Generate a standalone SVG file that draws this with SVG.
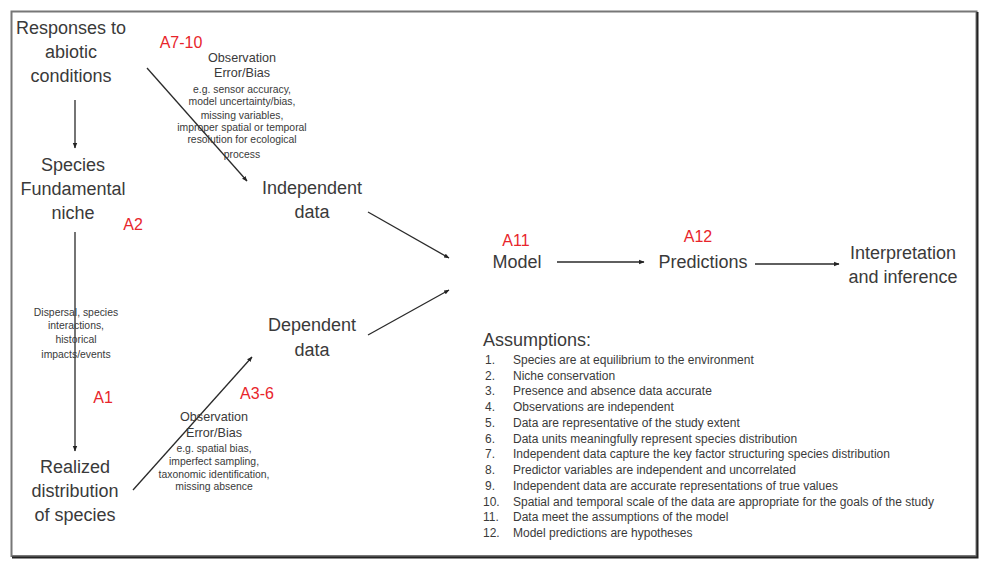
<svg xmlns="http://www.w3.org/2000/svg" width="981" height="563" viewBox="0 0 981 563">
<defs>
<marker id="ah" viewBox="0 0 10 10" refX="9" refY="5" markerWidth="4.2" markerHeight="4.2" orient="auto" markerUnits="strokeWidth">
<path d="M0,1 L10,5 L0,9 z" fill="#222"/>
</marker>
</defs>
<style>
.t{font-family:"Liberation Sans",Arial,sans-serif;fill:#3a3a3a;}
.m{font-size:18px;text-anchor:middle;}
.r{font-family:"Liberation Sans",Arial,sans-serif;fill:#e8252b;font-size:16px;text-anchor:middle;}
.s{font-size:10.4px;text-anchor:middle;}
.o{font-size:12.6px;text-anchor:middle;}
.a{font-size:12px;}
.h{font-size:18px;}
.c{stroke:#2a2a2a;stroke-width:1.3;fill:none;marker-end:url(#ah);}
</style>
<rect width="981" height="563" fill="#fff"/>
<rect x="11.5" y="11.5" width="965" height="544.5" fill="none" stroke="#777" stroke-width="2"/>
<path d="M977.5,12 V557.5 H12" fill="none" stroke="#222" stroke-width="2"/>

<g id="connectors">
<line class="c" x1="75" y1="100" x2="75" y2="148"/>
<line class="c" x1="75" y1="232" x2="75" y2="451"/>
<line class="c" x1="147" y1="68" x2="247" y2="181"/>
<line class="c" x1="133" y1="490" x2="252" y2="357"/>
<line class="c" x1="368" y1="212" x2="449" y2="258"/>
<line class="c" x1="368" y1="335" x2="449" y2="290"/>
<line class="c" x1="557" y1="262" x2="644" y2="262"/>
<line class="c" x1="755" y1="264" x2="839" y2="264"/>
</g>

<g id="responses">
<text class="t m" x="71" y="34">Responses to</text>
<text class="t m" x="71" y="58">abiotic</text>
<text class="t m" x="71" y="82">conditions</text>
</g>
<g id="fundamental-niche">
<text class="t m" x="73" y="171">Species</text>
<text class="t m" x="73" y="195">Fundamental</text>
<text class="t m" x="73" y="219">niche</text>
</g>
<g id="realized">
<text class="t m" x="75" y="473">Realized</text>
<text class="t m" x="75" y="497">distribution</text>
<text class="t m" x="75" y="521">of species</text>
</g>
<g id="independent">
<text class="t m" x="312" y="194">Independent</text>
<text class="t m" x="312" y="218">data</text>
</g>
<g id="dependent">
<text class="t m" x="312" y="331">Dependent</text>
<text class="t m" x="312" y="356">data</text>
</g>
<g id="model">
<text class="t m" x="517" y="268">Model</text>
</g>
<g id="predictions">
<text class="t m" x="703" y="268">Predictions</text>
</g>
<g id="interpretation">
<text class="t m" x="903" y="259">Interpretation</text>
<text class="t m" x="903" y="283">and inference</text>
</g>

<g id="labels">
<text class="r" x="181" y="48">A7-10</text>
<text class="r" x="133" y="230">A2</text>
<text class="r" x="103" y="403">A1</text>
<text class="r" x="257" y="399">A3-6</text>
<text class="r" x="516" y="246">A11</text>
<text class="r" x="698" y="242">A12</text>
</g>

<g id="obs-top">
<text class="t o" x="242" y="62">Observation</text>
<text class="t o" x="242" y="77">Error/Bias</text>
<text class="t s" x="242" y="93">e.g. sensor accuracy,</text>
<text class="t s" x="242" y="105">model uncertainty/bias,</text>
<text class="t s" x="242" y="119">missing variables,</text>
<text class="t s" x="242" y="131">improper spatial or temporal</text>
<text class="t s" x="242" y="143">resolution for ecological</text>
<text class="t s" x="242" y="158">process</text>
</g>
<g id="dispersal">
<text class="t s" x="76" y="316">Dispersal, species</text>
<text class="t s" x="76" y="329">interactions,</text>
<text class="t s" x="76" y="343">historical</text>
<text class="t s" x="76" y="358">impacts/events</text>
</g>
<g id="obs-bottom">
<text class="t o" x="214" y="421">Observation</text>
<text class="t o" x="214" y="437">Error/Bias</text>
<text class="t s" x="214" y="452">e.g. spatial bias,</text>
<text class="t s" x="214" y="465">imperfect sampling,</text>
<text class="t s" x="214" y="478">taxonomic identification,</text>
<text class="t s" x="214" y="490">missing absence</text>
</g>

<g id="assumptions">
<text class="t h" x="483" y="346">Assumptions:</text>
<text class="t a" x="485" y="364">1.</text><text class="t a" x="513" y="364">Species are at equilibrium to the environment</text>
<text class="t a" x="485" y="380">2.</text><text class="t a" x="513" y="380">Niche conservation</text>
<text class="t a" x="485" y="395">3.</text><text class="t a" x="513" y="395">Presence and absence data accurate</text>
<text class="t a" x="485" y="411">4.</text><text class="t a" x="513" y="411">Observations are independent</text>
<text class="t a" x="485" y="427">5.</text><text class="t a" x="513" y="427">Data are representative of the study extent</text>
<text class="t a" x="485" y="443">6.</text><text class="t a" x="513" y="443">Data units meaningfully represent species distribution</text>
<text class="t a" x="485" y="458">7.</text><text class="t a" x="513" y="458">Independent data capture the key factor structuring species distribution</text>
<text class="t a" x="485" y="474">8.</text><text class="t a" x="513" y="474">Predictor variables are independent and uncorrelated</text>
<text class="t a" x="485" y="490">9.</text><text class="t a" x="513" y="490">Independent data are accurate representations of true values</text>
<text class="t a" x="483" y="506">10.</text><text class="t a" x="513" y="506">Spatial and temporal scale of the data are appropriate for the goals of the study</text>
<text class="t a" x="483" y="521">11.</text><text class="t a" x="513" y="521">Data meet the assumptions of the model</text>
<text class="t a" x="483" y="537">12.</text><text class="t a" x="513" y="537">Model predictions are hypotheses</text>
</g>
</svg>
